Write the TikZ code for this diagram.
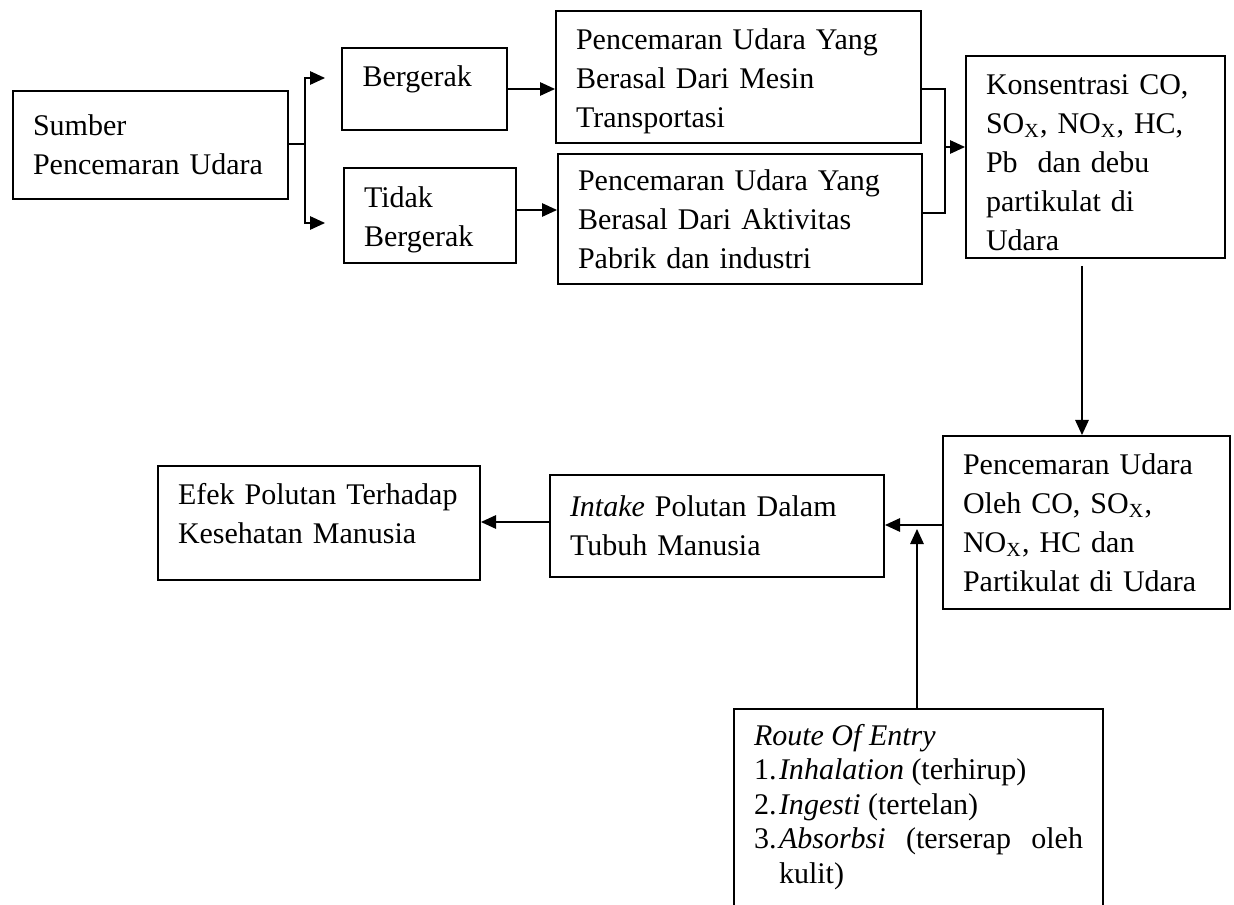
\documentclass[tikz,border=0pt]{standalone}
\usepackage{fontspec}
\setmainfont{Liberation Serif}
\usetikzlibrary{arrows.meta}
\begin{document}
\begin{tikzpicture}[x=0.4pt,y=-0.4pt,
  box/.style={draw, line width=0.8pt, anchor=north west, inner xsep=8pt, inner ysep=0pt,
    align=left, font=\fontsize{12}{15.6}\selectfont},
  arr/.style={line width=0.55pt, -{Triangle[length=6pt,width=5.4pt]}},
  conn/.style={line width=0.55pt}]
\useasboundingbox[fill=white] (0,0) rectangle (1234,905);

\node[box, minimum width=110pt, minimum height=43.2pt, text width=94pt] (sumber) at (12,90)
  {Sumber\\Pencemaran Udara};
\node[box, minimum width=66pt, minimum height=32.8pt, text width=49.6pt, inner xsep=8.2pt] (bergerak) at (341,47)
  {Bergerak\rule[-10pt]{0pt}{0pt}};
\node[box, minimum width=68.8pt, minimum height=38pt, text width=52.8pt] (tidak) at (343,167)
  {\rule{0pt}{11.5pt}Tidak\\Bergerak};
\node[box, minimum width=146pt, minimum height=52.8pt, text width=130pt] (p1) at (555,10)
  {\rule{0pt}{11.5pt}Pencemaran Udara Yang\\Berasal Dari Mesin\\Transportasi};
\node[box, minimum width=145.6pt, minimum height=52pt, text width=129.6pt] (p2) at (557,153)
  {Pencemaran Udara Yang\\Berasal Dari Aktivitas\\Pabrik dan industri};
\node[box, minimum width=103.6pt, minimum height=80.8pt, text width=87.6pt] (kons) at (965,55)
  {\rule{0pt}{12.5pt}Konsentrasi CO,\\SO\textsubscript{X}, NO\textsubscript{X}, HC,\\Pb\ \ dan debu\\partikulat di\\Udara};
\node[box, minimum width=114.8pt, minimum height=69.2pt, text width=98.8pt] (oleh) at (942,435)
  {Pencemaran Udara\\Oleh CO, SO\textsubscript{X},\\NO\textsubscript{X}, HC dan\\Partikulat di Udara};
\node[box, minimum width=128.8pt, minimum height=45.6pt, text width=112.8pt] (efek) at (157,465)
  {Efek Polutan Terhadap\\Kesehatan Manusia\rule[-8pt]{0pt}{0pt}};
\node[box, minimum width=133.6pt, minimum height=40.8pt, text width=117.6pt] (intake) at (549,474)
  {\textit{Intake} Polutan Dalam\\Tubuh Manusia};
\node[box, inner ysep=6pt, font=\fontsize{12}{13.8}\selectfont] (route) at (733,708)
  {\parbox[t][100pt][t]{131.6pt}{\fontsize{12}{13.8}\selectfont
   \textit{Route Of Entry}\\
   \makebox[10pt][l]{1.}\textit{Inhalation} (terhirup)\\
   \makebox[10pt][l]{2.}\textit{Ingesti} (tertelan)\\
   \makebox[131.6pt][s]{\makebox[10pt][l]{3.}\textit{Absorbsi} (terserap oleh}\\
   \hspace*{10pt}kulit)}};

% connectors
\coordinate (sp) at (305,144);
\coordinate (bt) at (305,78);
\coordinate (bb) at (305,223);
\coordinate (bta) at (325,78);
\coordinate (bba) at (325,223);
\draw[conn] (sumber.east |- sp) -- (sp);
\draw[arr] (sp) -- (bt) -- (bta);
\draw[arr] (sp) -- (bb) -- (bba);

\coordinate (ba) at (506,89);
\coordinate (ta) at (515,210);
\draw[arr] (ba) -- (ba -| p1.west);
\draw[arr] (ta) -- (ta -| p2.west);

\coordinate (jt) at (945,89);
\coordinate (jb) at (945,213);
\coordinate (jm) at (945,147);
\draw[conn] (p1.east |- jt) -- (jt) -- (jb) -- (p2.east |- jb);
\draw[arr] (jm) -- (jm -| kons.west);

\coordinate (dtop) at (1082,266);
\draw[arr] (dtop) -- (dtop |- oleh.north);

\coordinate (hl) at (942,525);
\draw[arr] (hl) -- (hl -| intake.east);
\coordinate (hl2) at (549,522);
\draw[arr] (hl2) -- (hl2 -| efek.east);

\coordinate (rt) at (917,708);
\coordinate (rtip) at (917,529);
\draw[arr] (rt) -- (rtip);
\end{tikzpicture}
\end{document}
